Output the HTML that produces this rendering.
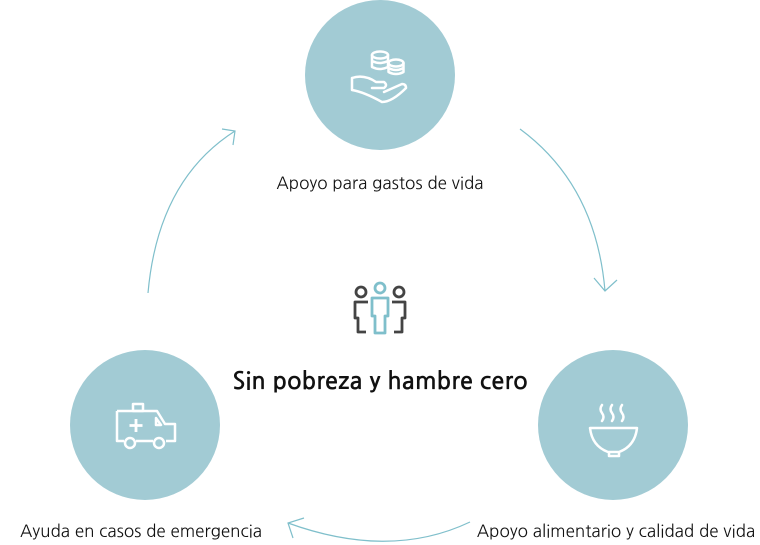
<!DOCTYPE html>
<html><head><style>
body{margin:0;background:#fff;width:760px;height:545px;overflow:hidden;position:relative;font-family:"NanumGothic","Liberation Sans",sans-serif;}
.l{position:absolute;font-size:17px;line-height:20px;color:#111;white-space:nowrap;transform:translateX(-50%);}
</style></head><body>
<svg width="760" height="545" style="position:absolute;left:0;top:0">
<g fill="#a2cbd4">
<circle cx="380" cy="75" r="75"/>
<circle cx="145" cy="425" r="75"/>
<circle cx="613" cy="425" r="75"/>
</g>
<g fill="none" stroke="#7fbfcb" stroke-width="1.2">
<path d="M148 293 Q158 180 235 131"/>
<path d="M222 129 L235 131 L233 145"/>
<path d="M520 129 Q596 185 605 291"/>
<path d="M594 278 L605 291 L617 280"/>
<path d="M470 522 Q390 560 288 523"/>
<path d="M304 518 L288 523 L293 538"/>
</g>
<g fill="none" stroke="#fff" stroke-width="2.5" stroke-linejoin="round" stroke-linecap="round">
<ellipse cx="380" cy="55" rx="8" ry="3.5"/>
<path d="M372 55 v12 q8 4 16 0 v-12 M372 61 q8 4 16 0"/>
<ellipse cx="396" cy="63" rx="7.5" ry="3.5"/>
<path d="M388.5 63 v9 q7.5 4 15 0 v-9 M388.5 68 q7.5 4 15 0"/>
<path d="M352 78 q12 -4 24 4 h8 q4 3 0 6 h-12 M352 78 v12 q12 2 30 12 q10 0 24 -14 q0 -4 -4 -4 l-18 8"/>
</g>
<g fill="none" stroke-width="2.8" stroke-linejoin="round">
<g stroke="#444">
<circle cx="361" cy="292" r="5"/>
<path d="M368 302 h-13 v16 h3 v14 h8"/>
<circle cx="399" cy="292" r="5"/>
<path d="M392 302 h13 v16 h-3 v14 h-8"/>
</g>
<g stroke="#7fbfcb">
<circle cx="380" cy="288" r="5"/>
<path d="M372 298 h16 v18 h-3 v17 h-10 v-17 h-3 z"/>
</g>
</g>
<g fill="none" stroke="#fff" stroke-width="2.5" stroke-linejoin="round">
<rect x="133" y="404" width="10" height="7"/>
<path d="M117 411 h40 l8 13 h10 v17 h-9 M153 441 h-17 M124 441 h-7 v-30"/>
<path d="M156 418 l5 7 h-5z"/>
<path d="M136 419 v13 M129.5 425.5 h13" stroke-width="2.8"/>
<circle cx="130" cy="443" r="5"/>
<circle cx="159" cy="443" r="5"/>
</g>
<g fill="none" stroke="#fff" stroke-width="2.5" stroke-linecap="round">
<path d="M602 405 q-3 4 0 8 q3 4 0 8 M612 405 q-3 4 0 8 q3 4 0 8 M622 405 q-3 4 0 8 q3 4 0 8"/>
<path d="M590 428 h47 q-2 18 -18 24 h-11 q-16 -6 -18 -24z M609 452 v4 h10 v-4" stroke-linejoin="round"/>
</g>
</svg>
<div class="l" style="left:380px;top:174px">Apoyo para gastos de vida</div>
<div class="l" style="left:380px;top:366px;font-size:24px;line-height:30px;font-weight:bold">Sin pobreza y hambre cero</div>
<div class="l" style="left:141px;top:522px">Ayuda en casos de emergencia</div>
<div class="l" style="left:616px;top:522px">Apoyo alimentario y calidad de vida</div>
</body></html>
